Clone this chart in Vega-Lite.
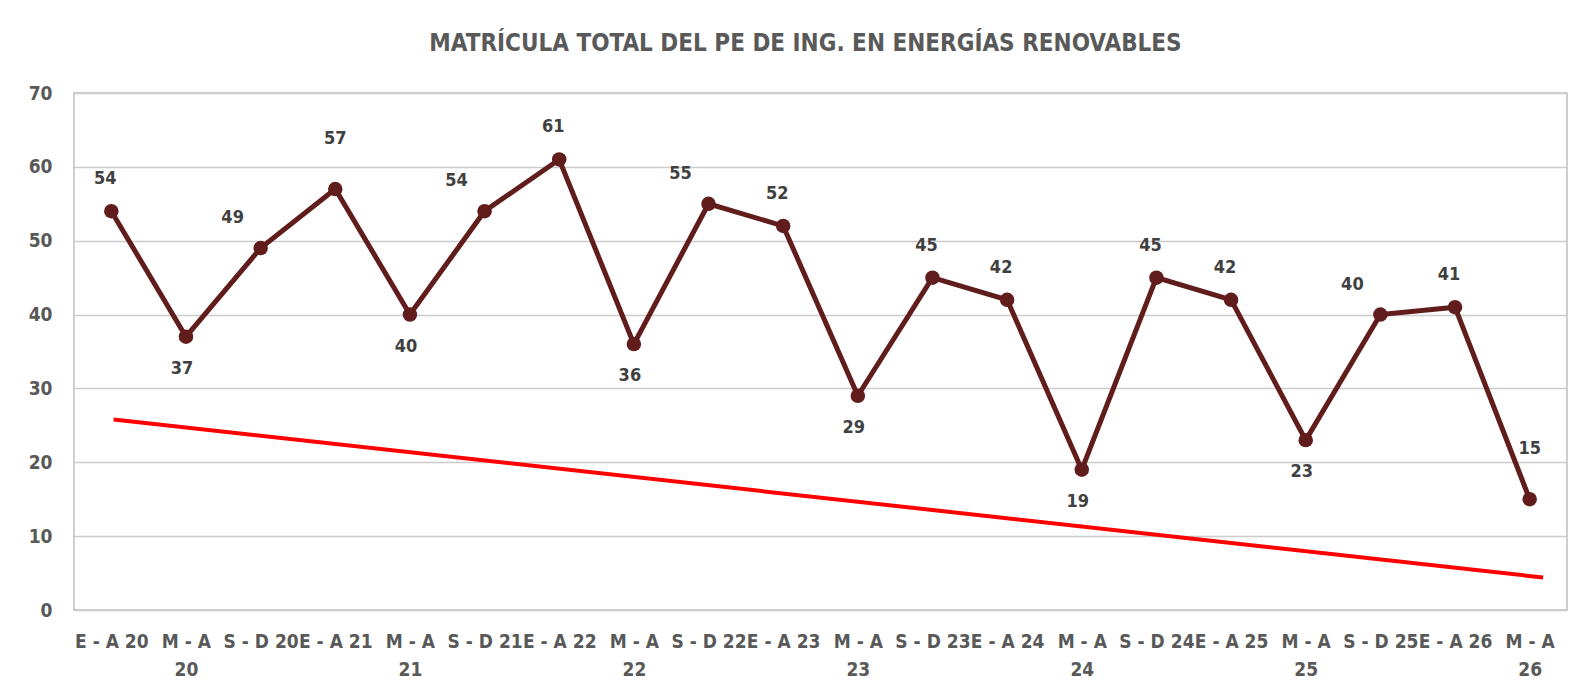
{
  "$schema": "https://vega.github.io/schema/vega-lite/v6.json",
  "autosize": {"type": "none"},
  "width": 1493,
  "height": 517,
  "padding": {"left": 74, "top": 93, "right": 28, "bottom": 89},
  "background": "white",
  "title": {
    "text": "MATRÍCULA TOTAL DEL PE DE ING. EN ENERGÍAS RENOVABLES",
    "font": "Liberation Sans Narrow, DejaVu Sans Condensed, sans-serif",
    "fontSize": 24,
    "fontWeight": "bold",
    "color": "#595959",
    "anchor": "middle",
    "dx": -15,
    "offset": 28
  },
  "config": {
    "font": "Liberation Sans Narrow, DejaVu Sans Condensed, sans-serif",
    "view": {"stroke": "#BFBFBF", "strokeWidth": 1.5}
  },
  "datasets": {
    "matricula": [
      {"i": 0, "periodo": "E - A 20", "valor": 54},
      {"i": 1, "periodo": "M - A 20", "valor": 37},
      {"i": 2, "periodo": "S - D 20", "valor": 49},
      {"i": 3, "periodo": "E - A 21", "valor": 57},
      {"i": 4, "periodo": "M - A 21", "valor": 40},
      {"i": 5, "periodo": "S - D 21", "valor": 54},
      {"i": 6, "periodo": "E - A 22", "valor": 61},
      {"i": 7, "periodo": "M - A 22", "valor": 36},
      {"i": 8, "periodo": "S - D 22", "valor": 55},
      {"i": 9, "periodo": "E - A 23", "valor": 52},
      {"i": 10, "periodo": "M - A 23", "valor": 29},
      {"i": 11, "periodo": "S - D 23", "valor": 45},
      {"i": 12, "periodo": "E - A 24", "valor": 42},
      {"i": 13, "periodo": "M - A 24", "valor": 19},
      {"i": 14, "periodo": "S - D 24", "valor": 45},
      {"i": 15, "periodo": "E - A 25", "valor": 42},
      {"i": 16, "periodo": "M - A 25", "valor": 23},
      {"i": 17, "periodo": "S - D 25", "valor": 40},
      {"i": 18, "periodo": "E - A 26", "valor": 41},
      {"i": 19, "periodo": "M - A 26", "valor": 15}
    ],
    "tendencia": [
      {"i": 0.03, "valor": 25.8},
      {"i": 19.18, "valor": 4.4}
    ]
  },
  "encoding": {
    "x": {
      "field": "i",
      "type": "quantitative",
      "scale": {"domain": [-0.5, 19.5], "nice": false, "zero": false},
      "axis": {
        "title": null,
        "values": [0,1,2,3,4,5,6,7,8,9,10,11,12,13,14,15,16,17,18,19],
        "labelExpr": "[['E - A 20'],['M - A','20'],['S - D 20'],['E - A 21'],['M - A','21'],['S - D 21'],['E - A 22'],['M - A','22'],['S - D 22'],['E - A 23'],['M - A','23'],['S - D 23'],['E - A 24'],['M - A','24'],['S - D 24'],['E - A 25'],['M - A','25'],['S - D 25'],['E - A 26'],['M - A','26']][datum.value]",
        "grid": false,
        "ticks": false,
        "domain": false,
        "labelFontSize": 19,
        "labelFontWeight": "bold",
        "labelColor": "#595959",
        "labelPadding": 22,
        "labelLineHeight": 28,
        "labelBaseline": "top",
        "labelFlush": false,
        "labelOverlap": false
      }
    },
    "y": {
      "field": "valor",
      "type": "quantitative",
      "scale": {"domain": [0, 70], "nice": false},
      "axis": {
        "title": null,
        "values": [0,10,20,30,40,50,60,70],
        "grid": true,
        "gridColor": "#CCCCCC",
        "gridWidth": 1.5,
        "ticks": false,
        "domain": false,
        "labelFontSize": 19,
        "labelFontWeight": "bold",
        "labelColor": "#595959",
        "labelPadding": 22
      }
    }
  },
  "layer": [
    {
      "data": {"name": "tendencia"},
      "mark": {"type": "line", "color": "#FF0000", "strokeWidth": 4},
      "encoding": {}
    },
    {
      "data": {"name": "matricula"},
      "mark": {"type": "line", "color": "#611C1C", "strokeWidth": 5},
      "encoding": {}
    },
    {
      "data": {"name": "matricula"},
      "mark": {"type": "point", "filled": true, "color": "#611C1C", "size": 210, "opacity": 1},
      "encoding": {}
    },
    {
      "data": {"name": "matricula"},
      "transform": [{"filter": "indexof([0,6,9,11,12,14,15,18], datum.i) >= 0"}],
      "mark": {"type": "text", "fontSize": 18, "fontWeight": "bold", "color": "#404040", "dy": -32, "dx": -6},
      "encoding": {"text": {"field": "valor"}}
    },
    {
      "data": {"name": "matricula"},
      "transform": [{"filter": "indexof([2,5,8,17], datum.i) >= 0"}],
      "mark": {"type": "text", "fontSize": 18, "fontWeight": "bold", "color": "#404040", "dy": -30, "dx": -28},
      "encoding": {"text": {"field": "valor"}}
    },
    {
      "data": {"name": "matricula"},
      "transform": [{"filter": "indexof([3,19], datum.i) >= 0"}],
      "mark": {"type": "text", "fontSize": 18, "fontWeight": "bold", "color": "#404040", "dy": -50, "dx": 0},
      "encoding": {"text": {"field": "valor"}}
    },
    {
      "data": {"name": "matricula"},
      "transform": [{"filter": "indexof([1,4,7,10,13,16], datum.i) >= 0"}],
      "mark": {"type": "text", "fontSize": 18, "fontWeight": "bold", "color": "#404040", "dy": 32, "dx": -4},
      "encoding": {"text": {"field": "valor"}}
    }
  ]
}
